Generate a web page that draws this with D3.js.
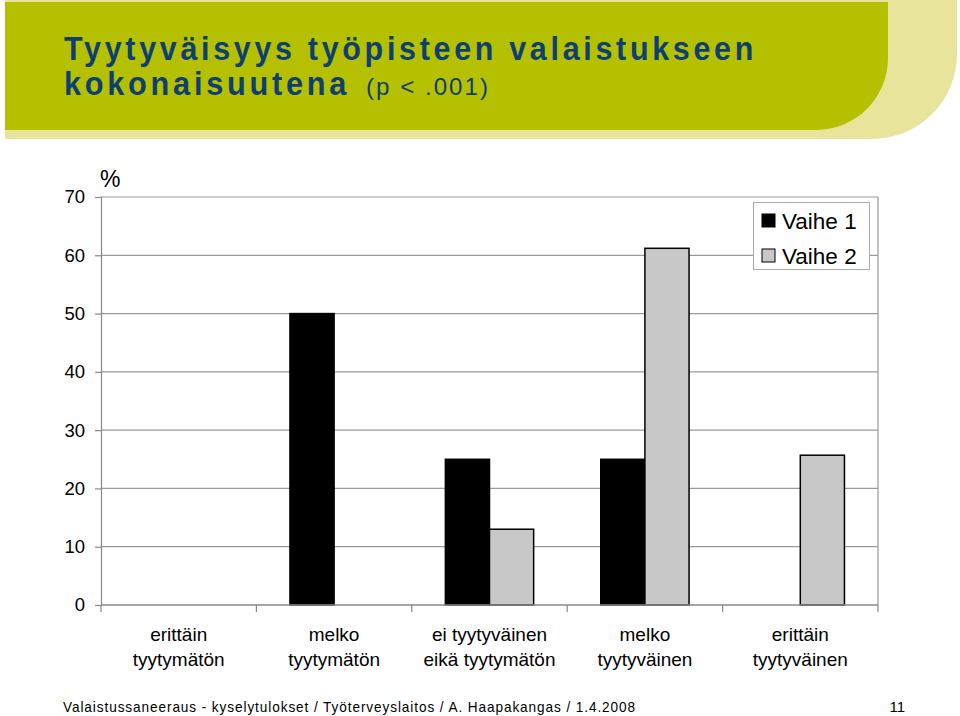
<!DOCTYPE html>
<html><head><meta charset="utf-8">
<script src="https://cdn.jsdelivr.net/npm/d3@7"></script>
<style>body{margin:0;background:#fff}svg{display:block}</style>
</head><body>
<script>
const categories = [["erittäin","tyytymätön"],["melko","tyytymätön"],["ei tyytyväinen","eikä tyytymätön"],["melko","tyytyväinen"],["erittäin","tyytyväinen"]];
const seriesNames = ["Vaihe 1","Vaihe 2"];
const vaihe1 = [0, 50, 25, 25, 0];
const vaihe2 = [0, 0, 13, 61.2, 25.7];
const yTicks = [0,10,20,30,40,50,60,70];
const colors = ["#000000","#c8c8c8"];

const W=960,H=716;
const svg=d3.select("body").append("svg").attr("width",W).attr("height",H);

// banner
function roundedBR(x0,y0,x1,y1,r){
  const p=d3.path();
  p.moveTo(x0,y0);p.lineTo(x1,y0);p.lineTo(x1,y1-r);
  p.arcTo(x1,y1,x1-r,y1,r);p.lineTo(x0,y1);p.closePath();return p.toString();
}
svg.append("path").attr("d",roundedBR(5,0,957,139,85)).attr("fill","#e8e49c");
svg.append("path").attr("d",roundedBR(5,2,888,130,72)).attr("fill","#b5c100");

const title=svg.append("g").attr("fill","#0e3f73").style("font-family","'Liberation Sans',Arial,sans-serif").style("font-weight","bold");
title.append("text").attr("x",64).attr("y",60).style("font-size","33px").style("letter-spacing","4px").attr("textLength",693).attr("lengthAdjust","spacingAndGlyphs").text("Tyytyväisyys työpisteen valaistukseen");
title.append("text").attr("x",64).attr("y",95).style("font-size","33px").style("letter-spacing","4px").attr("textLength",286).attr("lengthAdjust","spacingAndGlyphs").text("kokonaisuutena");
title.append("text").attr("x",366).attr("y",95).style("font-size","24px").style("font-weight","normal").style("letter-spacing","2px").attr("textLength",124).attr("lengthAdjust","spacingAndGlyphs").text("(p < .001)");

// chart
const x0=101,x1=878,yTop=197,yBot=605;
const x=d3.scaleBand().domain(d3.range(categories.length)).range([x0,x1]).paddingInner(0).paddingOuter(0);
const y=d3.scaleLinear().domain([0,70]).range([yBot,yTop]);
const xs=d3.scaleBand().domain([0,1]).range([0,x.bandwidth()]).paddingInner(0).paddingOuter(0.76);

const g=svg.append("g").style("font-family","'Liberation Sans',Arial,sans-serif");
// gridlines
g.selectAll("line.grid").data(yTicks.filter(d=>d>0)).join("line")
 .attr("x1",x0).attr("x2",x1).attr("y1",d=>y(d)).attr("y2",d=>y(d)).attr("stroke","#9a9a9a").attr("stroke-width",1.2);
// right border
g.append("line").attr("x1",x1).attr("x2",x1).attr("y1",yTop).attr("y2",yBot).attr("stroke","#9a9a9a").attr("stroke-width",1.2);

// bars
const data=[vaihe1,vaihe2];
data.forEach((vals,si)=>{
  g.selectAll("rect.s"+si).data(vals.map((v,i)=>({v,i})).filter(d=>d.v>0)).join("rect")
   .attr("x",d=>x(d.i)+xs(si)).attr("width",xs.bandwidth())
   .attr("y",d=>y(d.v)).attr("height",d=>yBot-y(d.v))
   .attr("fill",colors[si]).attr("stroke","#000").attr("stroke-width",1.5);
});

// y axis
const ya=g.append("g").attr("transform",`translate(${x0},0)`).call(d3.axisLeft(y).tickValues(yTicks).tickSize(6).tickPadding(10));
ya.select(".domain").attr("stroke","#888").attr("stroke-width",1.2);
ya.selectAll(".tick line").attr("stroke","#888").attr("stroke-width",1.2);
ya.selectAll(".tick text").style("font-size","18.5px").attr("fill","#000").style("font-family","'Liberation Sans',Arial,sans-serif");

// x axis
const xa=g.append("g").attr("transform",`translate(0,${yBot})`);
xa.append("line").attr("x1",x0).attr("x2",x1).attr("stroke","#888").attr("stroke-width",1.5);
const tickPos=d3.range(categories.length+1).map(i=>x0+i*x.step());
xa.selectAll("line.t").data(tickPos).join("line").attr("x1",d=>d).attr("x2",d=>d).attr("y1",0).attr("y2",7).attr("stroke","#888").attr("stroke-width",1.2);
const lab=xa.selectAll("text.c").data(categories).join("text")
 .attr("text-anchor","middle").style("font-size","19px").attr("fill","#000");
lab.each(function(d,i){
  const t=d3.select(this);
  d.forEach((line,k)=>t.append("tspan").attr("x",x(i)+x.bandwidth()/2).attr("y",36+k*25).text(line));
});

// % label
g.append("text").attr("x",100).attr("y",187).style("font-size","23px").text("%");

// legend
const lg=g.append("g");
lg.append("rect").attr("x",753.5).attr("y",202.5).attr("width",116).attr("height",67).attr("fill","#fff").attr("stroke","#aaa");
seriesNames.forEach((n,i)=>{
  lg.append("rect").attr("x",762).attr("y",214+i*35).attr("width",13).attr("height",13).attr("fill",colors[i]).attr("stroke","#000").attr("stroke-width",1);
  lg.append("text").attr("x",782).attr("y",229+i*35).style("font-size","22.5px").text(n);
});

// footer
const ft=svg.append("g").style("font-family","'Liberation Sans',Arial,sans-serif").attr("fill","#000");
ft.append("text").attr("x",63).attr("y",712).style("font-size","15px").style("letter-spacing","1px").attr("textLength",573).attr("lengthAdjust","spacingAndGlyphs").text("Valaistussaneeraus - kyselytulokset / Työterveyslaitos / A. Haapakangas / 1.4.2008");
ft.append("text").attr("x",905).attr("y",712).attr("text-anchor","end").style("font-size","15px").text("11");
</script>
</body></html>
